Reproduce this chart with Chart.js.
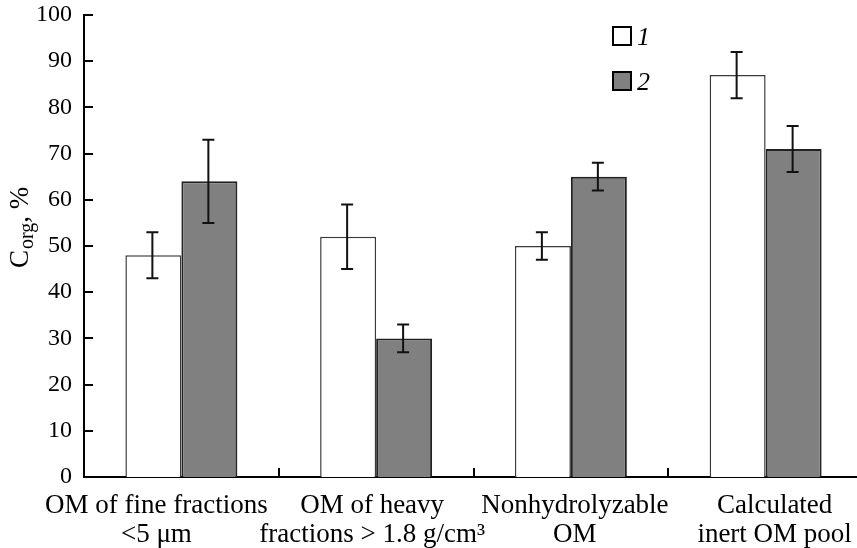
<!DOCTYPE html>
<html>
<head>
<meta charset="utf-8">
<script src="https://cdn.jsdelivr.net/npm/chart.js@4/dist/chart.umd.min.js"></script>
<style>
  html, body { margin: 0; padding: 0; background: #fff; overflow: hidden; }
  #wrap { width: 866px; height: 548px; }
</style>
</head>
<body>
<div id="wrap"><canvas id="c" width="866" height="548"></canvas></div>
<script>
const categories = [
  ["OM of fine fractions", "<5 μm"],
  ["OM of heavy", "fractions > 1.8 g/cm³"],
  ["Nonhydrolyzable", "OM"],
  ["Calculated", "inert OM pool"]
];
const seriesLabels = ["1", "2"];
const series1 = [48, 52, 50, 87];
const series2 = [64, 30, 65, 71];
const err1 = [5, 7, 3, 5];
const err2 = [9, 3, 3, 5];
const yMin = 0, yMax = 100, yStep = 10;

const FONT = '"Liberation Serif", "Times New Roman", "DejaVu Serif", serif';
const errors = [err1, err2];

const innerTicks = {
  id: 'innerTicks',
  afterDraw(chart) {
    const ctx = chart.ctx, y = chart.scales.y, x = chart.scales.x, a = chart.chartArea;
    ctx.save();
    ctx.strokeStyle = '#000';
    ctx.lineWidth = 2;
    ctx.beginPath();
    y.ticks.forEach(t => {
      if (t.value === yMin) return;
      const py = Math.round(y.getPixelForValue(t.value));
      ctx.moveTo(a.left, py);
      ctx.lineTo(a.left + 9, py);
    });
    for (let i = 0; i < categories.length - 1; i++) {
      const px = Math.round((x.getPixelForValue(i) + x.getPixelForValue(i + 1)) / 2);
      ctx.moveTo(px, a.bottom);
      ctx.lineTo(px, a.bottom - 9);
    }
    ctx.stroke();
    ctx.restore();
  }
};

// category label drawing (layout shifts only, text comes from categories)
const labelShift = [-25, -4, 4, 9];
const xLabels = {
  id: 'xLabels',
  afterDraw(chart) {
    const ctx = chart.ctx, x = chart.scales.x, a = chart.chartArea;
    ctx.save();
    ctx.fillStyle = '#000';
    ctx.font = '27px ' + FONT;
    ctx.textAlign = 'center';
    ctx.textBaseline = 'alphabetic';
    chart.data.labels.forEach((lab, i) => {
      const cx = x.getPixelForValue(i) + labelShift[i];
      const lines = Array.isArray(lab) ? lab : [lab];
      lines.forEach((ln, j) => {
        ctx.fillText(ln, cx, a.bottom + 36 + j * 29);
      });
    });
    ctx.restore();
  }
};

const errorBars = {
  id: 'errorBars',
  afterDatasetsDraw(chart) {
    const ctx = chart.ctx, y = chart.scales.y;
    ctx.save();
    ctx.strokeStyle = '#111';
    ctx.lineWidth = 2;
    chart.data.datasets.forEach((ds, di) => {
      const meta = chart.getDatasetMeta(di);
      meta.data.forEach((bar, i) => {
        const v = ds.data[i], e = errors[di][i];
        const top = y.getPixelForValue(v + e), bot = y.getPixelForValue(v - e);
        const cx = bar.x - 1;
        ctx.beginPath();
        ctx.moveTo(cx, top); ctx.lineTo(cx, bot);
        ctx.moveTo(cx - 6, top); ctx.lineTo(cx + 6, top);
        ctx.moveTo(cx - 6, bot); ctx.lineTo(cx + 6, bot);
        ctx.stroke();
      });
    });
    ctx.restore();
  }
};

const customLegend = {
  id: 'customLegend',
  afterDraw(chart) {
    const ctx = chart.ctx;
    ctx.save();
    chart.data.datasets.forEach((ds, i) => {
      const bx = 613, by = 27 + i * 45;
      ctx.fillStyle = ds.backgroundColor;
      ctx.fillRect(bx, by, 18, 18);
      ctx.strokeStyle = '#000';
      ctx.lineWidth = 2;
      ctx.strokeRect(bx, by, 18, 18);
      ctx.fillStyle = '#000';
      ctx.font = 'italic 26px ' + FONT;
      ctx.textBaseline = 'alphabetic';
      ctx.textAlign = 'left';
      ctx.fillText(ds.label, 637, by + 18);
    });
    ctx.restore();
  }
};

const yTitle = {
  id: 'yTitle',
  afterDraw(chart) {
    const ctx = chart.ctx;
    ctx.save();
    ctx.translate(28, 268);
    ctx.rotate(-Math.PI / 2);
    ctx.fillStyle = '#000';
    ctx.textBaseline = 'alphabetic';
    ctx.textAlign = 'left';
    let xo = 0;
    ctx.font = '27px ' + FONT;
    ctx.fillText('C', xo, 0); xo += ctx.measureText('C').width + 1;
    ctx.font = '20px ' + FONT;
    ctx.fillText('org', xo, 5); xo += ctx.measureText('org').width;
    ctx.font = '27px ' + FONT;
    ctx.fillText(', %', xo, 0);
    ctx.restore();
  }
};

new Chart(document.getElementById('c'), {
  type: 'bar',
  data: {
    labels: categories,
    datasets: [
      { label: seriesLabels[0], data: series1, backgroundColor: '#ffffff', borderColor: '#3a3a3a', borderWidth: 1.5 },
      { label: seriesLabels[1], data: series2, backgroundColor: '#808080', borderColor: '#222222', borderWidth: 2 }
    ]
  },
  options: {
    responsive: false,
    animation: false,
    layout: { padding: { left: 0, top: 15, right: 3, bottom: 0 } },
    datasets: { bar: { categoryPercentage: 0.575, barPercentage: 1.0 } },
    plugins: { legend: { display: false }, tooltip: { enabled: false } },
    scales: {
      x: {
        grid: { display: false, drawTicks: false },
        border: { display: true, color: '#000', width: 2 },
        ticks: { display: false },
        afterFit(s) { s.height = 71; s.paddingLeft = 0; s.paddingRight = 0; }
      },
      y: {
        min: yMin, max: yMax,
        grid: { display: false, drawTicks: false },
        border: { display: true, color: '#000', width: 2 },
        ticks: { stepSize: yStep, color: '#000', font: { family: FONT, size: 24 }, padding: 12 },
        afterFit(s) { s.width = 84; s.paddingTop = 0; s.paddingBottom = 0; }
      }
    }
  },
  plugins: [innerTicks, errorBars, customLegend, yTitle, xLabels]
});
</script>
</body>
</html>
